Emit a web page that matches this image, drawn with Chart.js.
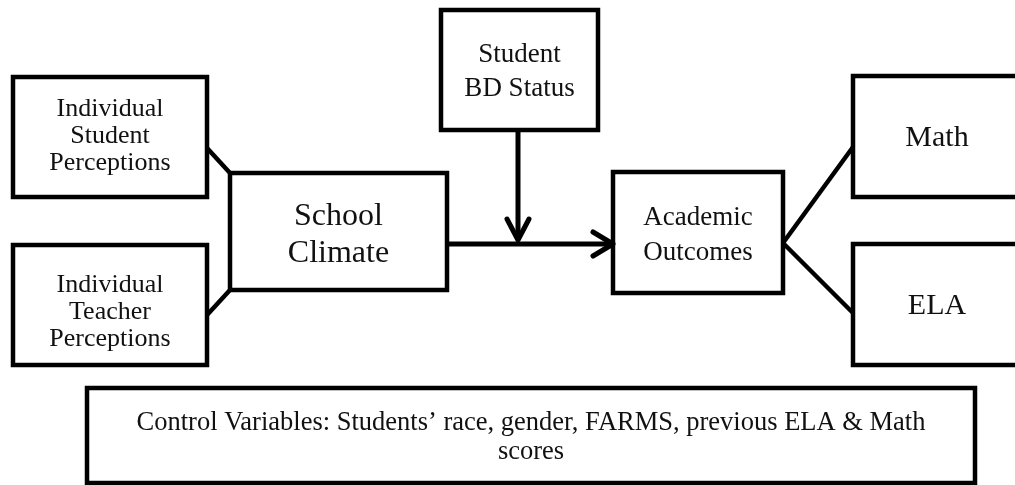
<!DOCTYPE html>
<html>
<head>
<meta charset="utf-8">
<title>School climate model</title>
<script src="https://cdn.jsdelivr.net/npm/chart.js@4.4.1/dist/chart.umd.min.js"></script>
<style>
  html, body { margin: 0; padding: 0; background: #fff; }
  #diagram { display: block; }
</style>
</head>
<body>
<canvas id="diagram" width="1015" height="485"></canvas>
<script>
// boxes of the model (diagram units = 0..1015 x 0..485, y goes down)
const boxLabels = [
    ['Individual', 'Student', 'Perceptions'],
    ['Individual', 'Teacher', 'Perceptions'],
    ['School', 'Climate'],
    ['Student', 'BD Status'],
    ['Academic', 'Outcomes'],
    ['Math'],
    ['ELA'],
    ['Control Variables: Students\u2019 race, gender, FARMS, previous ELA & Math', 'scores']
];
const boxLeft   = [13, 13, 230, 441, 613, 853, 853, 87];
const boxRight  = [207, 207, 447, 598, 783, 1021, 1021, 975];
const boxTop    = [77, 245, 173, 10, 172, 76, 244, 388];
const boxBottom = [197, 365, 290, 130, 293, 197, 365, 483];
const labelSize = [26, 26, 32, 27, 27, 30, 30, 26.5];
const labelLead = [27, 27, 37, 34, 35, 0, 0, 29];
const labelShift = [-3, 5, 1, 0, 1, 0, 0, 0];

// plain connectors [x0, y0, x1, y1]
const linkStudent  = [207, 148, 230, 173];
const linkTeacher  = [207, 315, 230, 290];
const linkMath     = [783, 243, 853, 147];
const linkEla      = [783, 243, 853, 313];
// arrows: stem + chevron
const arrowMain    = [447, 244, 612, 244];
const arrowMainHead = [[593, 232], [613, 244], [593, 256]];
const arrowBd      = [518, 130, 518, 240];
const arrowBdHead  = [[507, 219], [518, 240], [529, 219]];

const datasets = [];

boxLabels.forEach((lbl, i) => {
    datasets.push({
        label: lbl.join(' '),
        data: [
            { x: boxLeft[i], y: boxTop[i] },
            { x: boxRight[i], y: boxTop[i] },
            { x: boxRight[i], y: boxBottom[i] },
            { x: boxLeft[i], y: boxBottom[i] },
            { x: boxLeft[i], y: boxTop[i] }
        ],
        borderColor: '#000',
        borderWidth: 4.5,
        borderJoinStyle: 'miter',
        borderCapStyle: 'square',
        pointRadius: 0,
        showLine: true,
        fill: false
    });
});

[linkStudent, linkTeacher, linkMath, linkEla].forEach(l => {
    datasets.push({
        label: 'link',
        data: [{ x: l[0], y: l[1] }, { x: l[2], y: l[3] }],
        borderColor: '#000',
        borderWidth: 4.5,
        pointRadius: 0,
        showLine: true
    });
});

[arrowMain, arrowBd].forEach(l => {
    datasets.push({
        label: 'arrow',
        data: [{ x: l[0], y: l[1] }, { x: l[2], y: l[3] }],
        borderColor: '#000',
        borderWidth: 5,
        pointRadius: 0,
        showLine: true
    });
});

[arrowMainHead, arrowBdHead].forEach(h => {
    datasets.push({
        label: 'head',
        data: h.map(p => ({ x: p[0], y: p[1] })),
        borderColor: '#000',
        borderWidth: 5,
        borderJoinStyle: 'round',
        borderCapStyle: 'round',
        pointRadius: 0,
        showLine: true
    });
});

// texts inside boxes
const boxText = {
    id: 'boxText',
    afterDatasetsDraw(chart) {
        const ctx = chart.ctx;
        const xs = chart.scales.x, ys = chart.scales.y;
        ctx.save();
        ctx.fillStyle = '#111';
        ctx.textAlign = 'center';
        ctx.textBaseline = 'alphabetic';
        boxLabels.forEach((lines, i) => {
            const size = labelSize[i];
            const cap = size * 0.662;
            const lead = labelLead[i];
            const cx = xs.getPixelForValue((boxLeft[i] + boxRight[i]) / 2);
            const cy = ys.getPixelForValue((boxTop[i] + boxBottom[i]) / 2) + labelShift[i];
            const blockH = cap + (lines.length - 1) * lead;
            ctx.font = size + 'px "Liberation Serif", "Times New Roman", serif';
            lines.forEach((t, k) => {
                ctx.fillText(t, cx, cy - blockH / 2 + cap + k * lead);
            });
        });
        ctx.restore();
    }
};

new Chart(document.getElementById('diagram'), {
    type: 'scatter',
    data: { datasets: datasets },
    options: {
        responsive: false,
        animation: false,
        events: [],
        layout: { padding: 0 },
        plugins: {
            legend: { display: false },
            tooltip: { enabled: false }
        },
        scales: {
            x: { type: 'linear', min: 0, max: 1015, display: false },
            y: { type: 'linear', min: 0, max: 485, reverse: true, display: false }
        }
    },
    plugins: [boxText]
});
</script>
</body>
</html>
